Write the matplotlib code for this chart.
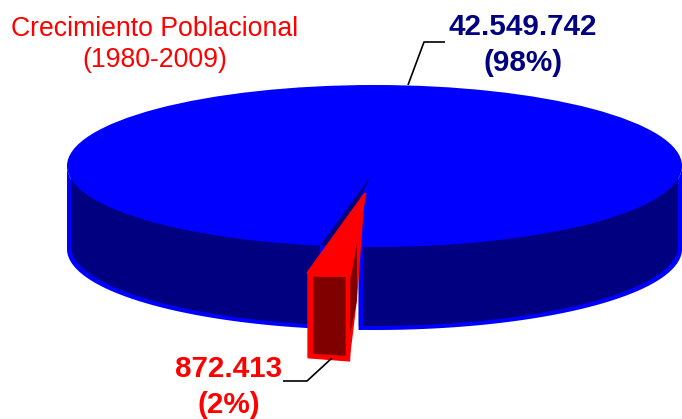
import matplotlib
matplotlib.use("Agg")
import matplotlib.pyplot as plt
from matplotlib.patches import Ellipse, Polygon
import numpy as np

values = [42549742, 872413]
value_labels = ["42.549.742\n(98%)", "872.413\n(2%)"]
title_lines = ["Crecimiento Poblacional", "(1980-2009)"]

plt.rcParams["font.family"] = ["Liberation Sans", "DejaVu Sans"]

# geometry of the 3d pie, in image pixels
cx, cy = 374.5, 166
rx, ry = 307.5, 81
depth = 83
edge = 4
start_angle = 259.8
explode = (-12, 27)

BLUE = "#0000ff"
NAVY = "#000080"
RED = "#ff0000"
MAROON = "#800000"


def rim(t, dx=0, dy=0, inset=0):
    t = np.radians(t)
    return np.column_stack([cx + dx + (rx - inset) * np.cos(t),
                            cy + dy - (ry - inset * 0.25) * np.sin(t)])


def side(ax, t0, t1, inset, color):
    t = np.linspace(t0, t1, 200)
    top = rim(t, inset=inset)
    bottom = rim(t, dy=depth, inset=inset)
    bottom[:, 1] -= inset * 0.75
    ax.add_patch(Polygon(np.vstack([top, bottom[::-1]]), fc=color, ec="none"))


fig = plt.figure(figsize=(6.82, 4.19), dpi=100)
ax = fig.add_axes([0, 0, 1, 1])
ax.set_xlim(0, 682)
ax.set_ylim(419, 0)
ax.axis("off")

sweep = 360 * values[1] / sum(values)
end_angle = start_angle + sweep

# pie body either side of the gap, then the top face
for t0, t1 in [(180, start_angle), (end_angle, 360)]:
    side(ax, t0, t1, 0, BLUE)
    side(ax, t0, t1, edge, NAVY)
# blue strip on the cut face of the right part
cut = rim(end_angle)[0]
ax.add_patch(Polygon([cut, (cut[0] + 4, cut[1]), (cut[0] + 4, cut[1] + depth), (cut[0], cut[1] + depth)],
                     fc=BLUE, ec="none"))
ax.add_patch(Ellipse((cx, cy), 2 * rx, 2 * ry, fc=BLUE, ec="none"))

# dark sliver where the slice was pulled out
p0, p1 = rim(start_angle)[0], rim(end_angle)[0]
ax.add_patch(Polygon([(cx - 4.5, cy + 11), p0, (p0[0] + 18, p0[1])], fc=NAVY, ec="none"))
ax.add_patch(Polygon([p0, (p0[0] + 30, p0[1]), (p0[0] + 30, p0[1] + 30), (p0[0], p0[1] + 30)], fc=BLUE, ec="none"))

# pulled out slice
a = p0 + explode
b = p1 + explode + np.array([3, 2])
tip = np.array([cx - 9.5, cy + 28])
h = depth + 2
ax.add_patch(Polygon([b, tip, tip + (-8, 106), (b[0], b[1] + h)], fc=RED, ec="none"))
ax.add_patch(Polygon([(b[0], b[1] + 1), tip + (-8, 46), tip + (-8, 106), (b[0], b[1] + 60)],
                     fc=MAROON, ec="none"))
ax.add_patch(Polygon([a, b, (b[0], b[1] + h), (a[0], a[1] + h)], fc=RED, ec=RED, lw=1, joinstyle="round"))
ax.add_patch(Polygon([a + (5, 4), b + (-4, 1), b + (-4, h - 5), a + (5, h - 4)], fc=MAROON, ec="none"))
ax.add_patch(Polygon([a, tip, b], fc=RED, ec=RED, lw=2, joinstyle="round"))

# leader lines
ax.plot([408, 424, 445], [85, 42, 42], color="black", lw=1.2, solid_capstyle="butt")
ax.plot([332, 307, 283], [358, 381, 381], color="black", lw=1.2, solid_capstyle="butt")

# labels
ax.text(155, 44.5, "\n".join(title_lines), color=RED, fontsize=19.2, ha="center", va="center",
        linespacing=1.25)
ax.text(523, 45, value_labels[0], color=NAVY, fontsize=21.3, fontweight="bold", ha="center",
        va="center", linespacing=1.32)
ax.text(229, 387, value_labels[1], color=RED, fontsize=21.3, fontweight="bold", ha="center",
        va="center", linespacing=1.32)

fig.savefig("out.png", dpi=100)
